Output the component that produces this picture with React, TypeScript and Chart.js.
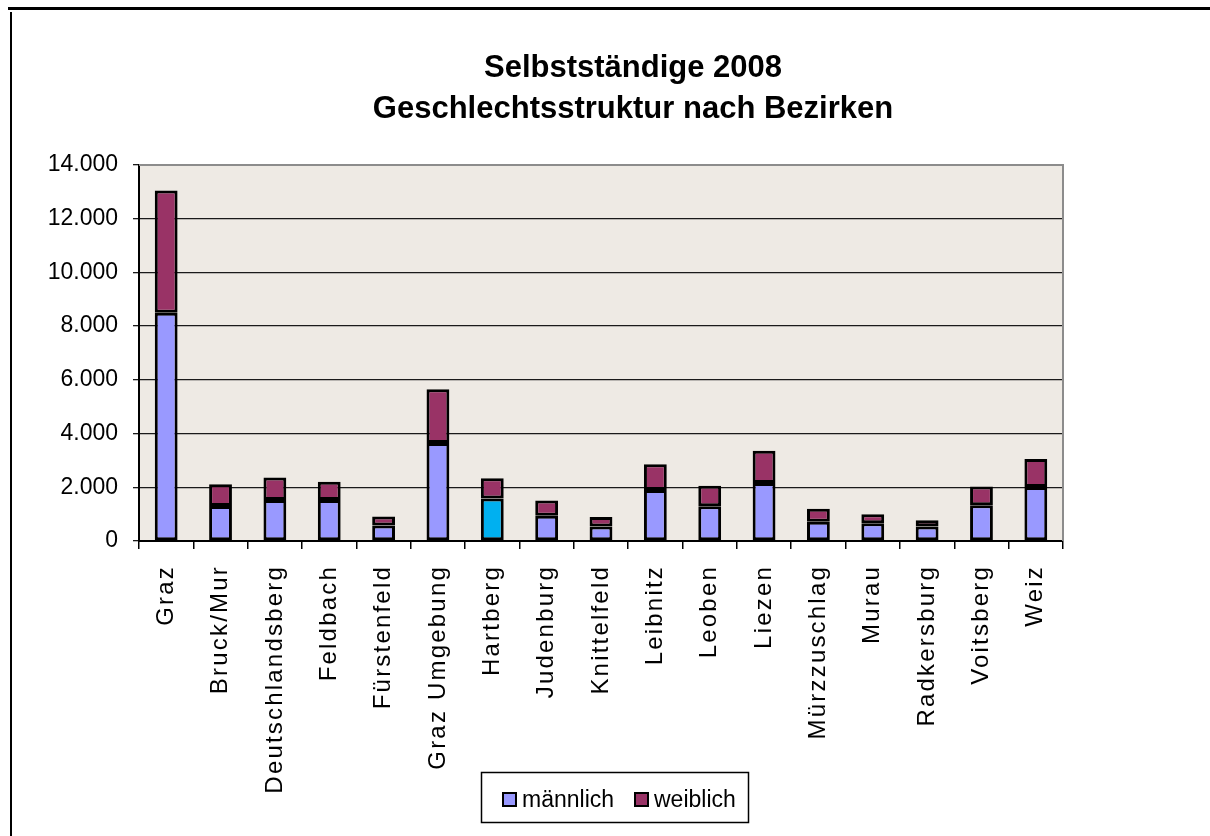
import React, { useEffect, useRef } from 'react';
import { Chart, registerables } from 'chart.js';

Chart.register(...registerables);

const categories = [
  'Graz', 'Bruck/Mur', 'Deutschlandsberg', 'Feldbach', 'Fürstenfeld', 'Graz Umgebung',
  'Hartberg', 'Judenburg', 'Knittelfeld', 'Leibnitz', 'Leoben', 'Liezen',
  'Mürzzuschlag', 'Murau', 'Radkersburg', 'Voitsberg', 'Weiz',
];
const maleValues = [8500, 1300, 1530, 1530, 580, 3650, 1580, 940, 540, 1900, 1290, 2160, 720, 660, 540, 1330, 2010];
const femaleValues = [4550, 810, 830, 680, 330, 2000, 760, 570, 350, 960, 770, 1200, 480, 340, 230, 700, 1040];
const seriesNames = ['männlich', 'weiblich'];
const titleLines = ['Selbstständige 2008', 'Geschlechtsstruktur nach Bezirken'];
const yMax = 14000;
const yStep = 2000;

const MALE = '#9999FF';
const MALE_HL = '#00B0F0';
const FEMALE = '#993366';
const FONT = '"Liberation Sans", Arial, sans-serif';

const fmt = (v: number) => String(v).replace(/\B(?=(\d{3})+(?!\d))/g, '.');

const decor = {
  id: 'decor',
  afterLayout(chart: any) {
    const xs = chart.scales.x;
    if (xs && !xs.__spaced) {
      const orig = xs.drawLabels;
      xs.drawLabels = function (area: any) {
        const c = chart.ctx;
        c.save();
        try { (c as any).letterSpacing = '2.2px'; } catch (e) { /* ignore */ }
        orig.call(this, area);
        c.restore();
      };
      xs.__spaced = true;
    }
  },
  beforeDraw(chart: any) {
    const { ctx, chartArea: a } = chart;
    ctx.save();
    ctx.fillStyle = '#ffffff';
    ctx.fillRect(0, 0, chart.width, chart.height);
    ctx.fillStyle = '#EEEAE4';
    ctx.fillRect(a.left, a.top, a.right - a.left, a.bottom - a.top);
    ctx.fillStyle = '#000';
    ctx.fillRect(8, 7, 1202, 3);
    ctx.fillRect(10, 12, 2, 824);
    ctx.restore();
  },
  afterDraw(chart: any) {
    const { ctx, chartArea: a } = chart;
    ctx.save();
    ctx.strokeStyle = '#8c8c8c';
    ctx.lineWidth = 2;
    ctx.beginPath();
    ctx.moveTo(a.left, a.top);
    ctx.lineTo(a.right, a.top);
    ctx.lineTo(a.right, a.bottom);
    ctx.stroke();
    ctx.fillStyle = '#000';
    ctx.font = `bold 31px ${FONT}`;
    ctx.textAlign = 'center';
    ctx.textBaseline = 'alphabetic';
    ctx.fillText(titleLines[0], 633, 77);
    ctx.fillText(titleLines[1], 633, 118);
    ctx.strokeStyle = '#000';
    ctx.lineWidth = 1.5;
    ctx.strokeRect(481.5, 772.5, 267, 50);
    ctx.font = `23px ${FONT}`;
    ctx.textAlign = 'left';
    const items = [
      { x: 503, color: MALE, label: seriesNames[0] },
      { x: 635, color: FEMALE, label: seriesNames[1] },
    ];
    for (const it of items) {
      ctx.fillStyle = it.color;
      ctx.fillRect(it.x, 793, 13, 13);
      ctx.lineWidth = 2;
      ctx.strokeRect(it.x, 793, 13, 13);
      ctx.fillStyle = '#000';
      ctx.fillText(it.label, it.x + 19, 807);
    }
    ctx.restore();
  },
};

export default function App() {
  const ref = useRef<HTMLCanvasElement | null>(null);
  useEffect(() => {
    if (!ref.current) return;
    const common = {
      borderColor: '#000',
      borderWidth: 3,
      borderSkipped: false,
      categoryPercentage: 1,
      barPercentage: 0.42,
    };
    const chart = new Chart(ref.current, {
      type: 'bar',
      data: {
        labels: categories,
        datasets: [
          {
            label: seriesNames[0],
            data: maleValues,
            backgroundColor: categories.map((c) => (c === 'Hartberg' ? MALE_HL : MALE)),
            ...common,
          },
          {
            label: seriesNames[1],
            data: femaleValues,
            backgroundColor: FEMALE,
            ...common,
          },
        ],
      },
      options: {
        responsive: false,
        animation: false,
        layout: { padding: { left: 0, right: 147, top: 165, bottom: 0 } },
        plugins: {
          legend: { display: false },
          title: { display: false },
          tooltip: { enabled: false },
        },
        scales: {
          x: {
            stacked: true,
            grid: { offset: true, drawOnChartArea: false, drawTicks: true, tickLength: 8, color: '#000', lineWidth: 1.5 },
            border: { display: true, color: '#000', width: 2 },
            ticks: {
              autoSkip: false,
              minRotation: 90,
              maxRotation: 90,
              padding: 16,
              color: '#000',
              font: { family: FONT, size: 24 },
            },
            afterFit: (s: any) => { s.height = 295; },
          },
          y: {
            stacked: true,
            min: 0,
            max: yMax,
            grid: { color: '#1a1a1a', lineWidth: 1.3, tickLength: 6 },
            border: { display: true, color: '#000', width: 2 },
            ticks: {
              stepSize: yStep,
              padding: 15,
              color: '#000',
              font: { family: FONT, size: 23 },
              callback: (v: any) => fmt(Number(v)),
            },
            afterFit: (s: any) => { s.width = 139; },
          },
        },
      },
      plugins: [decor],
    });
    return () => chart.destroy();
  }, []);
  return (
    <div style={{ position: 'absolute', left: 0, top: 0, width: 1210, height: 836, background: '#fff' }}>
      <canvas ref={ref} width={1210} height={836} style={{ display: 'block' }} />
    </div>
  );
}
